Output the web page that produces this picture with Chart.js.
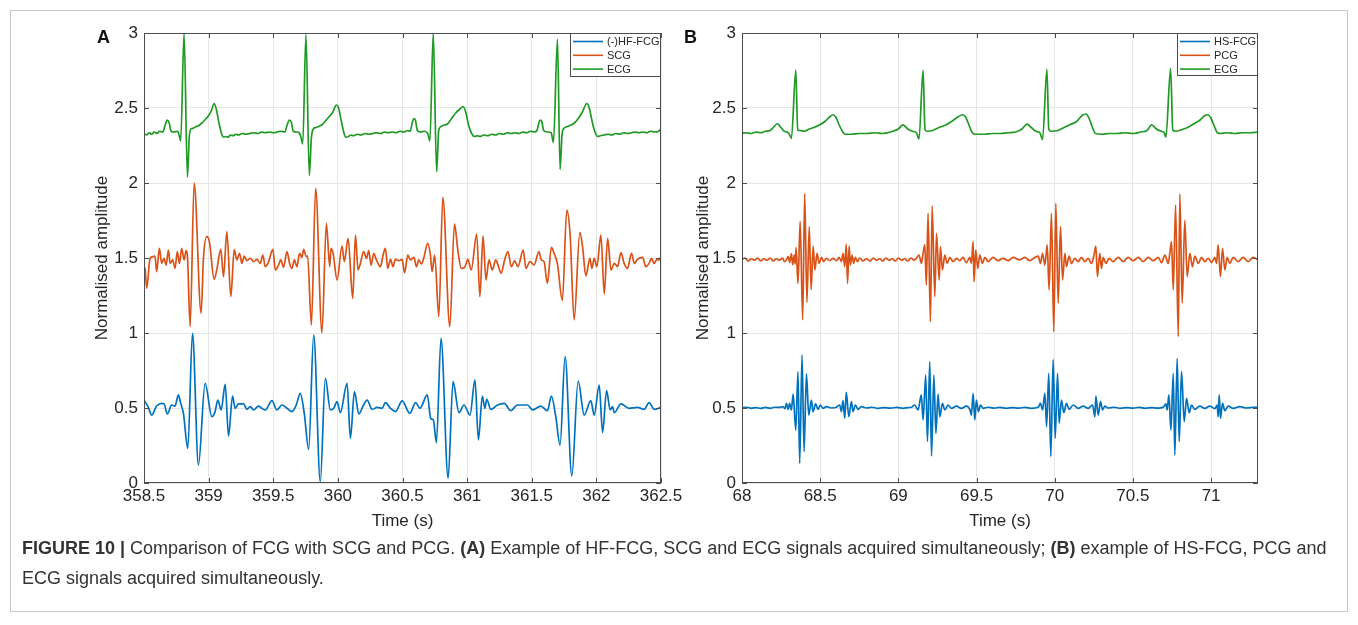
<!DOCTYPE html>
<html>
<head>
<meta charset="utf-8">
<script src="https://cdn.jsdelivr.net/npm/chart.js@4.4.0/dist/chart.umd.min.js"></script>
<style>
html, body { margin: 0; padding: 0; background: #fff; }
body { width: 1358px; height: 625px; position: relative; overflow: hidden; font-family: "Liberation Sans", Arial, sans-serif; }
#frame { position: absolute; left: 10px; top: 10px; width: 1338px; height: 602px; border: 1px solid #c8c8c8; box-sizing: border-box; }
canvas { position: absolute; top: 0; }
#cA { left: 0; }
#cB { left: 680px; }
.tag { position: absolute; top: 28px; font-weight: bold; font-size: 18px; line-height: 18px; color: #111; }
#cap { position: absolute; left: 22px; top: 533px; font-size: 18px; line-height: 30px; color: #333; white-space: nowrap; }
</style>
</head>
<body>
<div id="frame"></div>
<canvas id="cA" width="700" height="536"></canvas>
<canvas id="cB" width="678" height="536"></canvas>
<div class="tag" style="left:97px">A</div>
<div class="tag" style="left:684px">B</div>
<div id="cap"><b>FIGURE 10 |</b> Comparison of FCG with SCG and PCG. <b>(A)</b> Example of HF-FCG, SCG and ECG signals acquired simultaneously; <b>(B)</b> example of HS-FCG, PCG and<br>ECG signals acquired simultaneously.</div>
<script>
// tick values
const xTicksA = [358.5, 359, 359.5, 360, 360.5, 361, 361.5, 362, 362.5];
const xTicksB = [68, 68.5, 69, 69.5, 70, 70.5, 71];
const yTicks = [0, 0.5, 1, 1.5, 2, 2.5, 3];

// Panel A: [time s, normalised amplitude]
const ecgA = [[358.50,2.33],[358.52,2.32],[358.54,2.335],[358.56,2.325],[358.58,2.34],[358.60,2.33],[358.62,2.345],[358.645,2.34],[358.665,2.39],[358.68,2.42],[358.695,2.40],[358.71,2.345],[358.73,2.34],[358.76,2.345],[358.772,2.32],[358.784,2.28],[358.81,3.0],[358.836,2.04],[358.85,2.30],[358.862,2.36],[358.88,2.365],[358.90,2.375],[358.92,2.38],[358.94,2.395],[358.96,2.41],[358.98,2.43],[359.00,2.45],[359.02,2.48],[359.043,2.53],[359.06,2.49],[359.08,2.40],[359.10,2.33],[359.115,2.305],[359.13,2.31],[359.15,2.305],[359.17,2.32],[359.19,2.315],[359.21,2.325],[359.23,2.32],[359.26,2.33],[359.29,2.325],[359.32,2.33],[359.35,2.335],[359.38,2.33],[359.41,2.34],[359.44,2.335],[359.47,2.34],[359.50,2.335],[359.53,2.34],[359.56,2.345],[359.59,2.34],[359.605,2.38],[359.625,2.42],[359.64,2.405],[359.655,2.345],[359.68,2.34],[359.70,2.335],[359.716,2.30],[359.728,2.26],[359.753,2.99],[359.779,2.05],[359.795,2.30],[359.81,2.36],[359.83,2.37],[359.86,2.38],[359.88,2.39],[359.90,2.41],[359.93,2.44],[359.96,2.47],[359.988,2.52],[360.005,2.50],[360.025,2.42],[360.045,2.34],[360.06,2.305],[360.08,2.31],[360.10,2.32],[360.12,2.315],[360.15,2.325],[360.18,2.32],[360.21,2.33],[360.24,2.325],[360.27,2.33],[360.30,2.335],[360.33,2.33],[360.36,2.34],[360.39,2.335],[360.42,2.34],[360.45,2.335],[360.48,2.345],[360.51,2.34],[360.54,2.35],[360.56,2.345],[360.575,2.40],[360.588,2.43],[360.60,2.42],[360.615,2.35],[360.64,2.34],[360.67,2.345],[360.695,2.33],[360.712,2.28],[360.738,3.0],[360.764,2.075],[360.78,2.35],[360.795,2.375],[360.82,2.385],[360.85,2.395],[360.88,2.43],[360.91,2.465],[360.94,2.49],[360.97,2.51],[360.99,2.47],[361.01,2.39],[361.035,2.33],[361.058,2.31],[361.08,2.315],[361.10,2.31],[361.13,2.32],[361.16,2.315],[361.19,2.325],[361.22,2.32],[361.25,2.33],[361.28,2.325],[361.31,2.335],[361.34,2.33],[361.37,2.335],[361.40,2.33],[361.43,2.34],[361.46,2.335],[361.49,2.345],[361.52,2.34],[361.54,2.35],[361.555,2.40],[361.565,2.42],[361.578,2.41],[361.592,2.35],[361.62,2.34],[361.65,2.335],[361.668,2.27],[361.699,2.96],[361.719,2.09],[361.735,2.33],[361.75,2.365],[361.77,2.375],[361.80,2.385],[361.83,2.40],[361.86,2.43],[361.89,2.47],[361.926,2.53],[361.945,2.50],[361.965,2.42],[361.985,2.35],[362.01,2.31],[362.03,2.315],[362.06,2.32],[362.09,2.325],[362.12,2.32],[362.15,2.33],[362.18,2.325],[362.21,2.335],[362.24,2.33],[362.27,2.335],[362.30,2.34],[362.33,2.335],[362.36,2.34],[362.39,2.335],[362.42,2.345],[362.45,2.34],[362.48,2.345],[362.50,2.36]];

const scgA = [[358.50,1.44],[358.508,1.431],[358.521,1.298],[358.547,1.498],[358.572,1.509],[358.585,1.513],[358.598,1.409],[358.619,1.564],[358.637,1.464],[358.655,1.498],[358.671,1.453],[358.689,1.553],[358.702,1.464],[358.722,1.487],[358.740,1.431],[358.758,1.542],[358.774,1.464],[358.792,1.564],[358.810,1.487],[358.826,1.549],[358.836,1.513],[358.857,1.042],[358.888,2.0],[358.942,1.131],[358.960,1.50],[358.986,1.642],[359.006,1.609],[359.043,1.358],[359.063,1.42],[359.094,1.558],[359.115,1.376],[359.141,1.676],[359.172,1.242],[359.198,1.558],[359.218,1.487],[359.239,1.531],[359.257,1.464],[359.275,1.513],[359.296,1.482],[359.322,1.498],[359.348,1.476],[359.373,1.491],[359.399,1.464],[359.420,1.52],[359.438,1.442],[359.464,1.476],[359.497,1.558],[359.516,1.42],[359.541,1.453],[359.559,1.487],[359.580,1.438],[359.606,1.542],[359.627,1.464],[359.645,1.431],[359.663,1.487],[359.683,1.442],[359.704,1.531],[359.722,1.504],[359.735,1.558],[359.756,1.509],[359.766,1.513],[359.795,1.053],[359.828,1.964],[359.877,1.002],[359.911,1.731],[359.937,1.442],[359.947,1.564],[359.963,1.531],[359.994,1.353],[360.032,1.58],[360.050,1.476],[360.079,1.631],[360.115,1.231],[360.136,1.653],[360.156,1.42],[360.174,1.464],[360.200,1.542],[360.221,1.498],[360.239,1.549],[360.257,1.453],[360.278,1.531],[360.298,1.487],[360.329,1.442],[360.350,1.52],[360.368,1.564],[360.386,1.431],[360.407,1.491],[360.427,1.442],[360.445,1.491],[360.472,1.482],[360.497,1.491],[360.516,1.402],[360.541,1.52],[360.562,1.487],[360.588,1.504],[360.608,1.442],[360.626,1.487],[360.647,1.46],[360.664,1.498],[360.695,1.598],[360.716,1.52],[360.729,1.409],[360.749,1.52],[360.781,1.109],[360.812,1.904],[360.866,1.042],[360.902,1.727],[360.928,1.553],[360.955,1.431],[360.981,1.438],[361.006,1.491],[361.032,1.42],[361.074,1.66],[361.099,1.242],[361.123,1.647],[361.146,1.353],[361.169,1.487],[361.195,1.42],[361.221,1.487],[361.239,1.453],[361.264,1.398],[361.290,1.487],[361.316,1.542],[361.342,1.442],[361.368,1.482],[361.393,1.442],[361.434,1.553],[361.455,1.431],[361.486,1.476],[361.518,1.453],[361.556,1.542],[361.574,1.487],[361.595,1.476],[361.621,1.331],[361.652,1.571],[361.673,1.531],[361.698,1.464],[361.737,1.216],[361.771,1.82],[361.797,1.653],[361.828,1.087],[361.872,1.671],[361.893,1.576],[361.919,1.38],[361.950,1.498],[361.965,1.431],[361.983,1.498],[362.004,1.442],[362.035,1.653],[362.061,1.26],[362.087,1.631],[362.113,1.42],[362.139,1.464],[362.164,1.442],[362.190,1.536],[362.215,1.464],[362.241,1.431],[362.272,1.531],[362.293,1.464],[362.318,1.491],[362.357,1.504],[362.383,1.442],[362.408,1.464],[362.426,1.498],[362.447,1.464],[362.468,1.491],[362.486,1.487],[362.50,1.513]];

const fcgA = [[358.50,0.553],[358.534,0.504],[358.559,0.453],[358.598,0.513],[358.637,0.531],[358.655,0.527],[358.681,0.46],[358.714,0.52],[358.740,0.513],[358.766,0.587],[358.784,0.531],[358.805,0.464],[358.839,0.231],[358.875,0.998],[358.921,0.12],[358.973,0.664],[359.025,0.442],[359.050,0.476],[359.071,0.553],[359.097,0.487],[359.128,0.658],[359.154,0.313],[359.185,0.58],[359.205,0.498],[359.231,0.527],[359.270,0.527],[359.296,0.491],[359.322,0.509],[359.348,0.487],[359.386,0.513],[359.412,0.498],[359.438,0.487],[359.490,0.549],[359.528,0.487],[359.567,0.52],[359.606,0.498],[359.645,0.476],[359.678,0.52],[359.709,0.598],[359.740,0.464],[359.774,0.224],[359.813,0.987],[359.864,0.009],[359.903,0.698],[359.942,0.487],[359.968,0.498],[359.994,0.542],[360.019,0.469],[360.071,0.664],[360.097,0.298],[360.128,0.609],[360.162,0.46],[360.195,0.513],[360.226,0.553],[360.265,0.491],[360.304,0.504],[360.342,0.498],[360.368,0.536],[360.407,0.498],[360.446,0.476],[360.497,0.547],[360.557,0.464],[360.601,0.536],[360.635,0.498],[360.692,0.587],[360.718,0.431],[360.739,0.42],[360.762,0.269],[360.798,0.964],[360.853,0.031],[360.891,0.676],[360.937,0.469],[360.976,0.52],[361.022,0.453],[361.061,0.687],[361.087,0.287],[361.118,0.58],[361.137,0.498],[361.152,0.558],[361.183,0.491],[361.235,0.52],[361.287,0.531],[361.337,0.482],[361.389,0.52],[361.467,0.52],[361.506,0.487],[361.570,0.513],[361.621,0.482],[361.652,0.58],[361.686,0.442],[361.719,0.253],[361.758,0.842],[361.810,0.047],[361.859,0.68],[361.906,0.453],[361.957,0.549],[361.983,0.453],[362.022,0.653],[362.048,0.336],[362.079,0.616],[362.107,0.487],[362.125,0.509],[362.138,0.469],[362.190,0.527],[362.254,0.498],[362.318,0.504],[362.370,0.491],[362.408,0.536],[362.447,0.491],[362.50,0.504]];

// Panel B: [time s, normalised amplitude]
const ecgB = [[68.00,2.33],[68.03,2.335],[68.06,2.33],[68.09,2.34],[68.12,2.335],[68.15,2.345],[68.18,2.35],[68.20,2.37],[68.226,2.395],[68.245,2.375],[68.27,2.345],[68.29,2.34],[68.305,2.32],[68.316,2.297],[68.344,2.753],[68.356,2.353],[68.37,2.35],[68.40,2.345],[68.43,2.36],[68.46,2.37],[68.50,2.39],[68.53,2.41],[68.56,2.44],[68.582,2.455],[68.60,2.44],[68.62,2.39],[68.645,2.34],[68.66,2.325],[68.70,2.325],[68.75,2.33],[68.80,2.33],[68.85,2.335],[68.90,2.33],[68.95,2.34],[69.00,2.36],[69.03,2.387],[69.06,2.36],[69.09,2.345],[69.115,2.335],[69.132,2.293],[69.158,2.753],[69.17,2.36],[69.18,2.345],[69.22,2.35],[69.26,2.37],[69.30,2.385],[69.34,2.41],[69.38,2.44],[69.41,2.455],[69.43,2.44],[69.45,2.39],[69.47,2.34],[69.49,2.325],[69.55,2.325],[69.60,2.33],[69.65,2.33],[69.70,2.335],[69.75,2.34],[69.79,2.36],[69.823,2.393],[69.85,2.37],[69.88,2.345],[69.905,2.335],[69.922,2.29],[69.95,2.758],[69.962,2.36],[69.975,2.345],[70.02,2.35],[70.06,2.37],[70.10,2.39],[70.14,2.41],[70.175,2.45],[70.20,2.46],[70.22,2.43],[70.245,2.36],[70.26,2.33],[70.30,2.325],[70.35,2.33],[70.40,2.33],[70.45,2.335],[70.50,2.33],[70.55,2.34],[70.59,2.35],[70.62,2.387],[70.65,2.36],[70.68,2.345],[70.70,2.335],[70.711,2.305],[70.741,2.765],[70.755,2.355],[70.77,2.345],[70.81,2.355],[70.85,2.37],[70.89,2.395],[70.93,2.42],[70.96,2.45],[70.981,2.455],[71.00,2.43],[71.02,2.38],[71.04,2.335],[71.06,2.33],[71.10,2.335],[71.15,2.33],[71.20,2.335],[71.25,2.335],[71.30,2.34]];

const pcgB = [[68.00,1.49],[68.02,1.50],[68.04,1.48],[68.06,1.495],[68.08,1.485],[68.10,1.50],[68.12,1.48],[68.14,1.495],[68.16,1.485],[68.18,1.50],[68.20,1.48],[68.22,1.495],[68.24,1.485],[68.26,1.50],[68.27,1.475],[68.284,1.487],[68.296,1.51],[68.305,1.47],[68.316,1.53],[68.324,1.455],[68.334,1.52],[68.340,1.46],[68.346,1.57],[68.358,1.33],[68.372,1.745],[68.388,1.087],[68.401,1.93],[68.415,1.205],[68.430,1.71],[68.442,1.287],[68.455,1.58],[68.466,1.42],[68.480,1.531],[68.493,1.464],[68.508,1.504],[68.522,1.476],[68.540,1.498],[68.561,1.482],[68.582,1.498],[68.604,1.482],[68.621,1.504],[68.636,1.476],[68.646,1.531],[68.657,1.442],[68.667,1.593],[68.675,1.331],[68.685,1.58],[68.693,1.453],[68.704,1.52],[68.714,1.464],[68.725,1.504],[68.738,1.476],[68.753,1.50],[68.774,1.48],[68.796,1.495],[68.82,1.48],[68.84,1.50],[68.86,1.485],[68.88,1.495],[68.90,1.48],[68.92,1.50],[68.94,1.485],[68.96,1.495],[68.98,1.48],[69.00,1.50],[69.02,1.485],[69.04,1.495],[69.06,1.48],[69.08,1.50],[69.10,1.485],[69.115,1.498],[69.132,1.52],[69.147,1.464],[69.158,1.531],[69.169,1.587],[69.179,1.32],[69.19,1.798],[69.205,1.076],[69.216,1.847],[69.233,1.242],[69.244,1.664],[69.261,1.353],[69.269,1.576],[69.282,1.42],[69.297,1.52],[69.312,1.464],[69.329,1.504],[69.35,1.476],[69.372,1.498],[69.393,1.482],[69.414,1.504],[69.435,1.469],[69.457,1.504],[69.467,1.464],[69.478,1.609],[69.484,1.342],[69.495,1.553],[69.508,1.431],[69.521,1.52],[69.538,1.464],[69.553,1.504],[69.574,1.476],[69.606,1.504],[69.638,1.482],[69.670,1.498],[69.702,1.482],[69.734,1.504],[69.777,1.487],[69.809,1.504],[69.841,1.482],[69.873,1.504],[69.894,1.513],[69.909,1.464],[69.922,1.531],[69.937,1.453],[69.952,1.587],[69.964,1.287],[69.979,1.798],[69.994,1.009],[70.007,1.864],[70.022,1.198],[70.037,1.709],[70.050,1.353],[70.065,1.531],[70.075,1.442],[70.092,1.513],[70.107,1.464],[70.129,1.498],[70.150,1.476],[70.171,1.504],[70.193,1.476],[70.214,1.498],[70.235,1.464],[70.250,1.513],[70.263,1.58],[70.273,1.376],[70.288,1.531],[70.299,1.431],[70.310,1.504],[70.327,1.464],[70.348,1.498],[70.374,1.476],[70.406,1.504],[70.438,1.476],[70.470,1.504],[70.502,1.482],[70.534,1.504],[70.566,1.476],[70.598,1.504],[70.630,1.482],[70.662,1.504],[70.683,1.469],[70.705,1.52],[70.726,1.464],[70.736,1.531],[70.747,1.609],[70.758,1.287],[70.773,1.853],[70.790,0.976],[70.800,1.927],[70.815,1.198],[70.832,1.753],[70.847,1.376],[70.864,1.531],[70.881,1.442],[70.896,1.513],[70.918,1.464],[70.939,1.504],[70.960,1.476],[70.982,1.498],[71.003,1.469],[71.024,1.504],[71.035,1.464],[71.045,1.587],[71.060,1.376],[71.073,1.564],[71.088,1.42],[71.103,1.504],[71.120,1.464],[71.141,1.504],[71.173,1.476],[71.205,1.504],[71.237,1.476],[71.269,1.504],[71.30,1.487]];

const fcgB = [[68.00,0.50],[68.03,0.505],[68.06,0.498],[68.09,0.503],[68.12,0.497],[68.15,0.504],[68.18,0.498],[68.21,0.505],[68.241,0.504],[68.262,0.51],[68.275,0.495],[68.284,0.531],[68.295,0.491],[68.305,0.531],[68.316,0.487],[68.327,0.593],[68.344,0.353],[68.358,0.742],[68.369,0.131],[68.384,0.853],[68.397,0.209],[68.412,0.727],[68.427,0.453],[68.444,0.553],[68.454,0.476],[68.471,0.527],[68.486,0.491],[68.501,0.52],[68.518,0.498],[68.539,0.509],[68.571,0.50],[68.604,0.505],[68.625,0.52],[68.636,0.476],[68.646,0.549],[68.657,0.431],[68.667,0.604],[68.683,0.442],[68.700,0.542],[68.710,0.476],[68.725,0.52],[68.742,0.491],[68.763,0.509],[68.795,0.50],[68.83,0.505],[68.87,0.498],[68.91,0.503],[68.95,0.499],[68.99,0.504],[69.03,0.498],[69.06,0.503],[69.083,0.505],[69.104,0.52],[69.126,0.487],[69.147,0.587],[69.158,0.42],[69.175,0.72],[69.186,0.276],[69.201,0.809],[69.212,0.18],[69.227,0.72],[69.240,0.331],[69.254,0.593],[69.265,0.442],[69.282,0.531],[69.297,0.487],[69.318,0.52],[69.339,0.498],[69.371,0.513],[69.403,0.498],[69.435,0.513],[69.457,0.491],[69.467,0.453],[69.478,0.598],[69.489,0.42],[69.499,0.553],[69.512,0.476],[69.525,0.52],[69.542,0.498],[69.574,0.505],[69.61,0.499],[69.65,0.504],[69.69,0.498],[69.73,0.503],[69.77,0.499],[69.81,0.504],[69.85,0.498],[69.894,0.505],[69.909,0.531],[69.922,0.487],[69.937,0.598],[69.948,0.376],[69.962,0.731],[69.975,0.176],[69.990,0.824],[70.003,0.298],[70.018,0.731],[70.028,0.398],[70.043,0.553],[70.058,0.469],[70.075,0.531],[70.092,0.491],[70.118,0.52],[70.150,0.498],[70.182,0.513],[70.214,0.498],[70.242,0.52],[70.257,0.442],[70.263,0.58],[70.278,0.453],[70.293,0.542],[70.306,0.487],[70.321,0.513],[70.342,0.50],[70.38,0.505],[70.42,0.498],[70.46,0.503],[70.50,0.499],[70.54,0.504],[70.58,0.498],[70.62,0.503],[70.66,0.499],[70.694,0.505],[70.711,0.527],[70.719,0.487],[70.730,0.587],[70.743,0.353],[70.758,0.731],[70.768,0.187],[70.783,0.831],[70.796,0.276],[70.811,0.742],[70.828,0.409],[70.843,0.564],[70.860,0.469],[70.875,0.52],[70.896,0.491],[70.928,0.513],[70.960,0.498],[70.992,0.513],[71.024,0.496],[71.039,0.52],[71.045,0.442],[71.052,0.587],[71.060,0.431],[71.073,0.531],[71.088,0.482],[71.109,0.513],[71.141,0.498],[71.184,0.509],[71.227,0.50],[71.269,0.505],[71.30,0.504]];

const BLUE = '#0072BD', ORANGE = '#D95319', GREEN = '#1f9a24';
const INK = '#262626';

Chart.defaults.font.family = '"Liberation Sans", Arial, sans-serif';
Chart.defaults.color = INK;

// MATLAB-ish axes box with inward ticks, plus boxed legend in the top right corner
const axesBox = {
  id: 'axesBox',
  afterDatasetsDraw(chart, args, opts) {
    const { ctx, chartArea: a, scales } = chart;
    ctx.save();
    ctx.strokeStyle = '#4d4d4d';
    ctx.lineWidth = 1;
    ctx.strokeRect(a.left + 0.5, a.top + 0.5, a.right - a.left - 1, a.bottom - a.top - 1);
    ctx.beginPath();
    scales.x.ticks.forEach(t => {
      const px = Math.round(scales.x.getPixelForValue(t.value)) + 0.5;
      ctx.moveTo(px, a.bottom); ctx.lineTo(px, a.bottom - 5);
      ctx.moveTo(px, a.top); ctx.lineTo(px, a.top + 5);
    });
    scales.y.ticks.forEach(t => {
      const py = Math.round(scales.y.getPixelForValue(t.value)) + 0.5;
      ctx.moveTo(a.left, py); ctx.lineTo(a.left + 5, py);
      ctx.moveTo(a.right, py); ctx.lineTo(a.right - 5, py);
    });
    ctx.stroke();

    // legend box
    const w = opts.width, h = opts.height;
    const bx = a.right - w, by = a.top;
    ctx.fillStyle = '#fff';
    ctx.fillRect(bx, by, w, h);
    ctx.strokeStyle = '#4d4d4d';
    ctx.strokeRect(bx + 0.5, by + 0.5, w - 1, h - 1);
    ctx.font = '11px "Liberation Sans", Arial, sans-serif';
    ctx.textBaseline = 'middle';
    ctx.textAlign = 'left';
    chart.data.datasets.forEach((ds, i) => {
      const y = by + 8.5 + i * 13.8;
      ctx.strokeStyle = ds.borderColor;
      ctx.lineWidth = 1.6;
      ctx.beginPath();
      ctx.moveTo(bx + 3, y); ctx.lineTo(bx + opts.line, y);
      ctx.stroke();
      ctx.fillStyle = INK;
      ctx.fillText(ds.label, bx + opts.line + 4, y + 0.5);
    });
    ctx.restore();
  }
};

function series(label, pts, color) {
  return {
    label: label,
    data: pts.map(p => ({ x: p[0], y: p[1] })),
    borderColor: color,
    borderWidth: 1.7,
    pointRadius: 0,
    cubicInterpolationMode: 'monotone',
    fill: false
  };
}

function makeChart(id, datasets, xTicks, xMin, xMax, pad, yAxisW, legend) {
  return new Chart(document.getElementById(id), {
    type: 'line',
    data: { datasets: datasets },
    options: {
      responsive: false,
      animation: false,
      devicePixelRatio: 1,
      layout: { padding: pad },
      plugins: { legend: { display: false }, tooltip: { enabled: false }, axesBox: legend },
      scales: {
        x: {
          type: 'linear', min: xMin, max: xMax,
          afterBuildTicks: s => { s.ticks = xTicks.map(v => ({ value: v })); },
          afterFit: s => { s.height = 53; s.paddingLeft = 0; s.paddingRight = 0; },
          ticks: { font: { size: 17 }, padding: 3, maxRotation: 0, callback: v => String(v) },
          grid: { color: '#e6e6e6', drawTicks: false },
          border: { display: false },
          title: { display: true, text: 'Time (s)', font: { size: 17 }, padding: { top: 4, bottom: 4 } }
        },
        y: {
          min: 0, max: 3,
          afterBuildTicks: s => { s.ticks = yTicks.map(v => ({ value: v })); },
          afterFit: s => { s.width = yAxisW; s.paddingTop = 0; s.paddingBottom = 0; },
          ticks: { font: { size: 17 }, padding: 6, callback: v => String(v) },
          grid: { color: '#e6e6e6', drawTicks: false },
          border: { display: false },
          title: { display: true, text: 'Normalised amplitude', font: { size: 17 }, padding: { top: 4, bottom: 4 } }
        }
      }
    },
    plugins: [axesBox]
  });
}

makeChart('cA',
  [series('(-)HF-FCG', fcgA, BLUE), series('SCG', scgA, ORANGE), series('ECG', ecgA, GREEN)],
  xTicksA, 358.5, 362.5,
  { left: 88, top: 33, right: 39, bottom: 0 }, 56,
  { width: 91, height: 44, line: 33 });

makeChart('cB',
  [series('HS-FCG', fcgB, BLUE), series('PCG', pcgB, ORANGE), series('ECG', ecgB, GREEN)],
  xTicksB, 68, 71.3,
  { left: 9, top: 33, right: 100, bottom: 0 }, 53,
  { width: 81, height: 43, line: 33 });
</script>
</body>
</html>
